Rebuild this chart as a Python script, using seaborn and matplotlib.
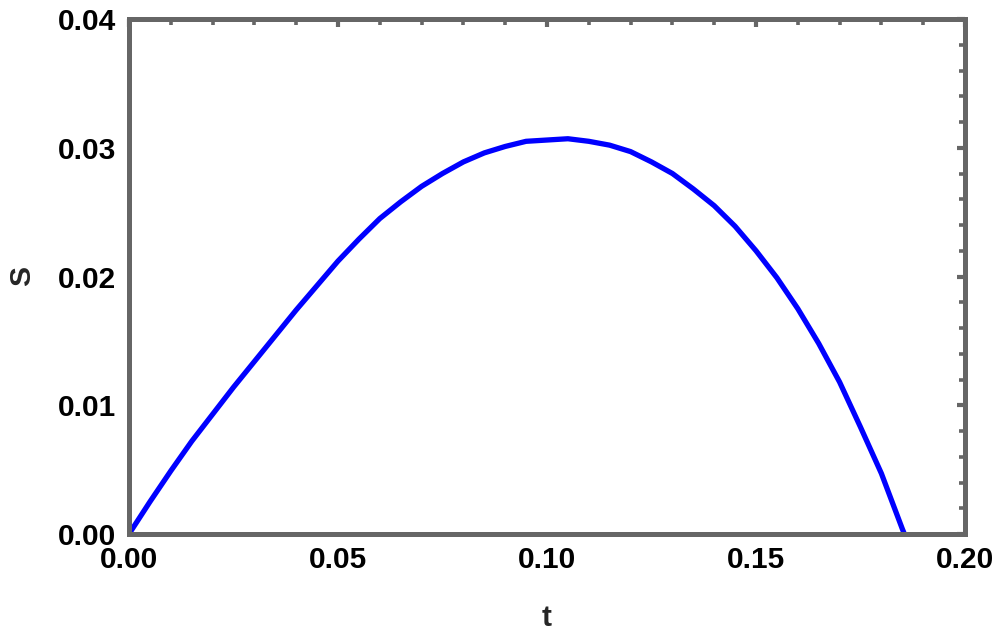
import matplotlib
matplotlib.use("Agg")
import matplotlib.pyplot as plt
import seaborn as sns
import pandas as pd
from matplotlib.ticker import MultipleLocator, FormatStrFormatter

# values (every 0.005 in t)
t_values = [0.0, 0.005, 0.01, 0.015, 0.02, 0.025, 0.03, 0.035, 0.04, 0.045,
            0.05, 0.055, 0.06, 0.065, 0.07, 0.075, 0.08, 0.085, 0.09, 0.095,
            0.1, 0.105, 0.11, 0.115, 0.12, 0.125, 0.13, 0.135, 0.14, 0.145,
            0.15, 0.155, 0.16, 0.165, 0.17, 0.175, 0.18, 0.185, 0.1855]
s_values = [0.0, 0.0025, 0.0049, 0.0072, 0.0093, 0.0114, 0.0134, 0.0154, 0.0174, 0.0193,
            0.0212, 0.0229, 0.0245, 0.0258, 0.0270, 0.0280, 0.0289, 0.0296, 0.0301, 0.0305,
            0.0306, 0.0307, 0.0305, 0.0302, 0.0297, 0.0289, 0.0280, 0.0268, 0.0255, 0.0239,
            0.0220, 0.0199, 0.0175, 0.0148, 0.0118, 0.0083, 0.0047, 0.0004, 0.0]

df = pd.DataFrame({"t": t_values, "S": s_values})

sns.set_style("white")
plt.rcParams['font.family'] = ['Liberation Sans', 'DejaVu Sans']

frame_gray = "#666666"

fig = plt.figure(figsize=(9.96, 6.38), dpi=100)
ax = fig.add_axes([129 / 996, (638 - 534) / 638, (965 - 129) / 996, (534 - 19) / 638])

sns.lineplot(data=df, x="t", y="S", color="#0000ff", linewidth=3.8, ax=ax)

ax.set_xlim(0, 0.2)
ax.set_ylim(0, 0.04)
ax.xaxis.set_major_locator(MultipleLocator(0.05))
ax.xaxis.set_minor_locator(MultipleLocator(0.01))
ax.yaxis.set_major_locator(MultipleLocator(0.01))
ax.yaxis.set_minor_locator(MultipleLocator(0.002))
ax.xaxis.set_major_formatter(FormatStrFormatter("%.2f"))
ax.yaxis.set_major_formatter(FormatStrFormatter("%.2f"))

for sp in ax.spines.values():
    sp.set_color(frame_gray)
    sp.set_linewidth(3.6)

ax.tick_params(which="both", direction="in", top=True, right=True, color=frame_gray)
ax.tick_params(which="major", length=6, width=3, pad=9, labelsize=21.5, labelcolor="black")
ax.tick_params(which="minor", length=4, width=2.6)
for lab in ax.get_xticklabels() + ax.get_yticklabels():
    lab.set_fontweight("bold")

ax.set_xlabel("t", fontsize=21.5, fontweight="bold", labelpad=21)
ax.set_ylabel("S", fontsize=21.5, fontweight="bold", labelpad=16)

fig.savefig("out.png", dpi=100)
